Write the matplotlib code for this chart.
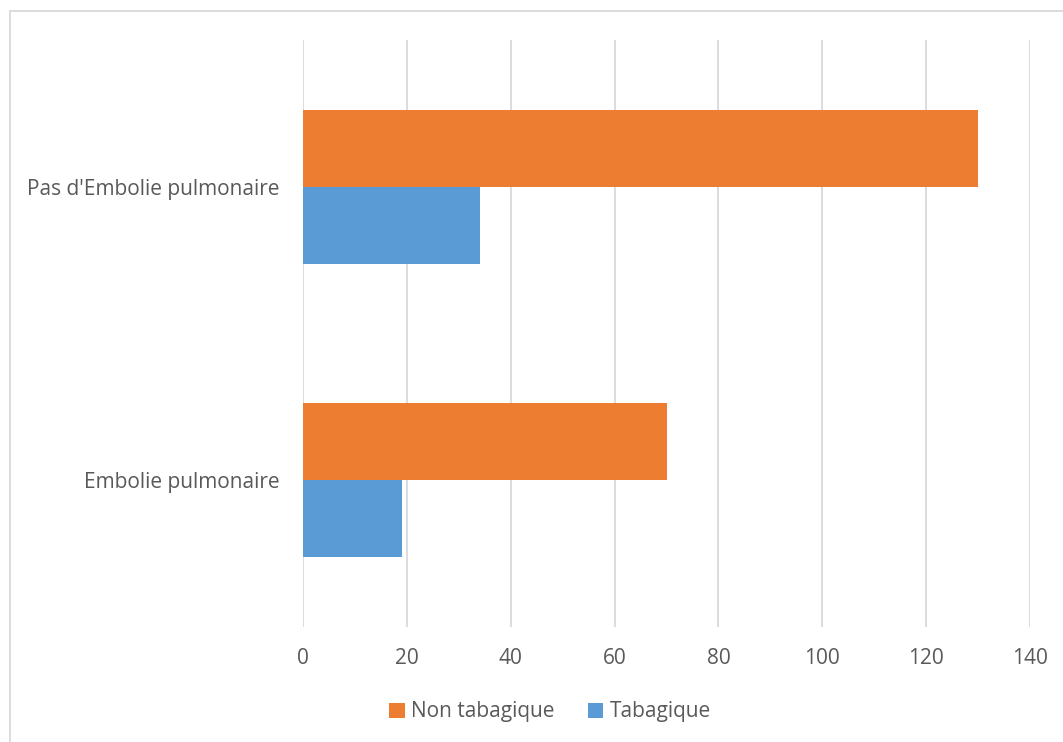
import matplotlib
matplotlib.use("Agg")
import matplotlib.pyplot as plt
import matplotlib.patches as mpatches
import numpy as np

categories = ["Embolie pulmonaire", "Pas d'Embolie pulmonaire"]
non_tabagique = [70, 130]
tabagique = [19, 34]
xticks = [0, 20, 40, 60, 80, 100, 120, 140]

ORANGE = "#ED7D31"
BLUE = "#5B9BD5"
TEXT = "#595959"
GRID = "#D9D9D9"

plt.rcParams["font.family"] = ["Open Sans", "DejaVu Sans"]

fig = plt.figure(figsize=(10.63, 7.42), dpi=100, facecolor="white")
ax = fig.add_axes([303 / 1063, 1 - 627 / 742, 727 / 1063, 587 / 742])

y = np.arange(len(categories))
h = 0.262
ax.barh(y + h / 2, non_tabagique, height=h, color=ORANGE, label="Non tabagique", zorder=3)
ax.barh(y - h / 2, tabagique, height=h, color=BLUE, label="Tabagique", zorder=3)

ax.set_xlim(0, 140)
ax.set_ylim(-0.5, 1.5)
ax.set_xticks(xticks)
ax.set_yticks(y)
ax.set_yticklabels(categories)
ax.grid(axis="x", color=GRID, linewidth=1.3, zorder=0)
ax.tick_params(length=0, labelsize=15, colors=TEXT)
ax.tick_params(axis="x", pad=15)
ax.tick_params(axis="y", pad=17)
for s in ax.spines.values():
    s.set_visible(False)

ax.legend(loc="center", bbox_to_anchor=(550 / 1063, 1 - 712 / 742),
          bbox_transform=fig.transFigure, ncol=2, frameon=False,
          fontsize=15, labelcolor=TEXT, handlelength=0.75, handleheight=0.75,
          handletextpad=0.3, columnspacing=1.6)

# outer chart border (cropped on the right and bottom)
fig.patches.append(mpatches.Rectangle((10 / 1063, -0.1), 1.2, 1 - 11 / 742 + 0.1,
                                      transform=fig.transFigure, fill=False,
                                      edgecolor="#D9D9D9", linewidth=1.3))

fig.savefig("out.png", dpi=100, facecolor="white")
